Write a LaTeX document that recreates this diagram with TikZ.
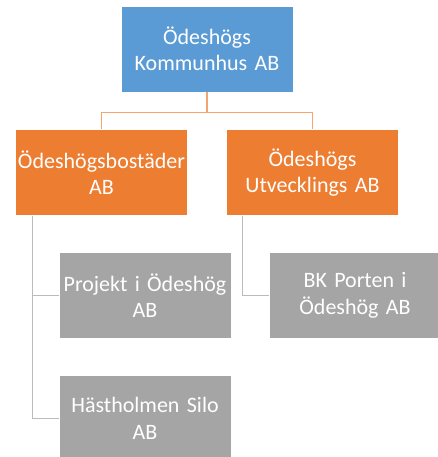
\documentclass[tikz,border=0pt]{standalone}
\usepackage{fontspec}
\setmainfont{Carlito}
\usepackage{tikz}
\usetikzlibrary{positioning}

\definecolor{boxblue}{HTML}{5B9BD5}
\definecolor{boxorange}{HTML}{ED7D31}
\definecolor{boxgray}{HTML}{A5A5A5}
\definecolor{lineorange}{HTML}{F4A46C}
\definecolor{linegray}{HTML}{BBBBBB}

\tikzset{
  unit/.style={rectangle,draw=white,line width=0.5pt,text=white,minimum width=172pt,minimum height=86pt,
    text width=170pt,inner sep=1pt,align=center,font=\fontsize{22}{26.5}\selectfont},
  orgline/.style={draw=lineorange,line width=1.3pt},
  subline/.style={draw=linegray,line width=1.3pt}
}

\begin{document}
\begin{tikzpicture}[x=1pt,y=-1pt]
        \useasboundingbox (0,0) rectangle (437,457);
        \node[unit,fill=boxblue] (kommunhus) at (207,49) {Ödeshögs\\Kommunhus AB};
        \node[unit,fill=boxorange] (bostader) at (101.5,172.5) {Ödeshögsbostäder\\AB};
        \node[unit,fill=boxorange] (utveckling) at (312.5,172.5) {Ödeshögs\\Utvecklings AB};
        \node[unit,fill=boxgray] (projekt) at (145,295.5) {Projekt i Ödeshög\\AB};
        \node[unit,fill=boxgray] (silo) at (145,418.5) {Hästholmen Silo\\AB};
        \node[unit,fill=boxgray] (porten) at (355,295.5) {BK Porten i\\Ödeshög AB};
        \draw[orgline] (kommunhus.south) -- ++(0,20) -| (bostader.north);
        \draw[orgline] (kommunhus.south) -- ++(0,20) -| (utveckling.north);
        \draw[subline] ([xshift=17pt]bostader.south west) |- (projekt.west);
        \draw[subline] ([xshift=17pt]bostader.south west) |- (silo.west);
        \draw[subline] ([xshift=16pt]utveckling.south west) |- (porten.west);
    \end{tikzpicture}
\end{document}
